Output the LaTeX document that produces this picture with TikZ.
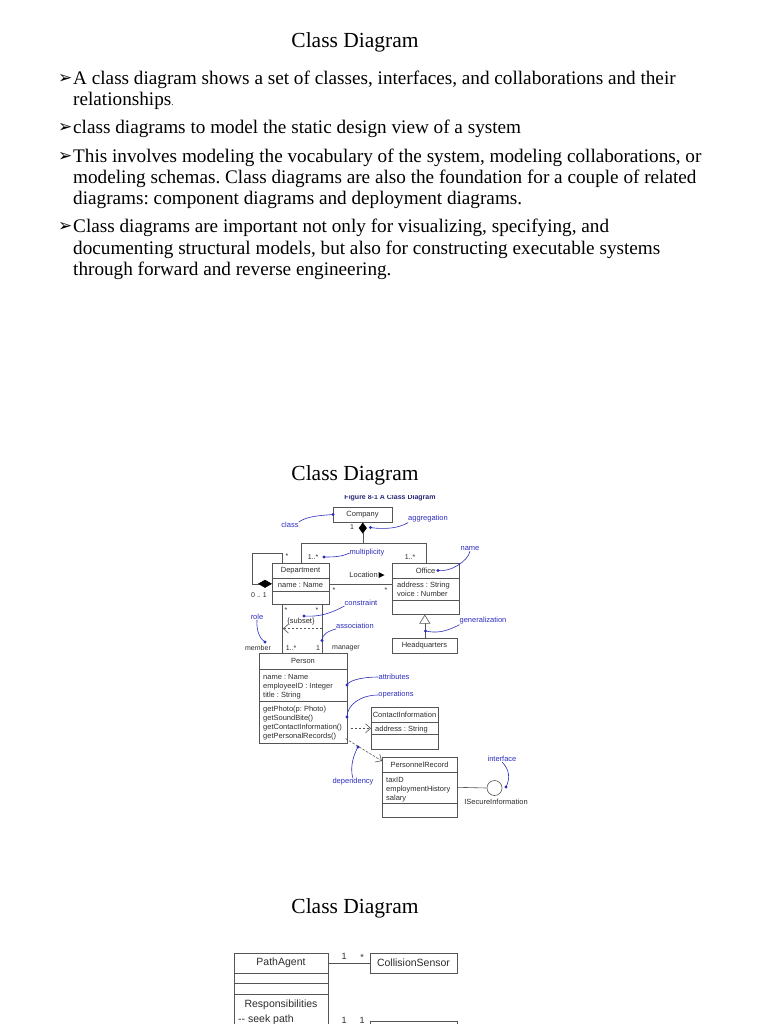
\documentclass[tikz,border=0pt]{standalone}
\usepackage{fontspec}
\setmainfont{Liberation Serif}
\setsansfont{Liberation Sans}
\newfontfamily\dejavu{DejaVu Sans}
\usetikzlibrary{arrows.meta,calc}
\definecolor{annblue}{RGB}{45,45,190}
\definecolor{umlline}{RGB}{85,85,85}
\definecolor{umltext}{RGB}{45,45,45}
\definecolor{capblue}{RGB}{40,40,120}
\frenchspacing
\begin{document}
\begin{tikzpicture}[x=1pt,y=-1pt,
  bodytext/.style={anchor=base west, inner sep=0pt, font=\fontsize{19.2}{22}\selectfont},
  titletext/.style={anchor=base, inner sep=0pt, font=\fontsize{21.5}{24}\selectfont},
  bulletmark/.style={anchor=base west, inner sep=0pt, font=\dejavu\fontsize{17}{18}\selectfont},
  umlbox/.style={draw=umlline, line width=0.6pt, anchor=north west, inner sep=0pt},
  umlsep/.style={draw=umlline, line width=0.6pt},
  umlname/.style={font=\sffamily\fontsize{7.5}{9}\selectfont, text=umltext, inner sep=0pt},
  umlattr/.style={font=\sffamily\fontsize{7.5}{9}\selectfont, text=umltext, inner sep=0pt, anchor=base west},
  umledge/.style={draw=umlline, line width=0.6pt},
  mult/.style={font=\sffamily\fontsize{7}{8}\selectfont, text=umltext, inner sep=0pt},
  ann/.style={font=\sffamily\fontsize{7.5}{9}\selectfont, text=annblue, inner sep=0pt},
  annline/.style={draw=annblue, line width=0.6pt},
  depline/.style={draw=umlline, line width=0.6pt, dash pattern=on 2.5pt off 1.5pt, -{Straight Barb[length=5pt,width=9pt]}},
  bigname/.style={font=\sffamily\fontsize{10.5}{12}\selectfont, text=umltext, inner sep=0pt},
  bigmult/.style={font=\sffamily\fontsize{9}{10}\selectfont, text=umltext, inner sep=0pt},
  bigbox/.style={draw=umlline, line width=0.8pt, anchor=north west, inner sep=0pt}
]
\useasboundingbox (0,0) rectangle (768,1024);
\clip (0,0) rectangle (768,1024);
\fill[white] (0,0) rectangle (768,1024);

% ---------------- top text ----------------
\node[titletext] (title1) at (355,48) {Class Diagram};
\node[bulletmark] (b1) at (58,84) {➢};
\node[bodytext] (t1) at (73,85) {A class diagram shows a set of classes, interfaces, and collaborations and their};
\node[bodytext] (t2) at (73,106) {relationships{\fontsize{9}{10}\selectfont.}};
\node[bulletmark] (b2) at (58,133) {➢};
\node[bodytext] (t3) at (73,134) {class diagrams to model the static design view of a system};
\node[bulletmark] (b3) at (58,162) {➢};
\node[bodytext] (t4) at (73,163) {This involves modeling the vocabulary of the system, modeling collaborations, or};
\node[bodytext] (t5) at (73,184) {modeling schemas. Class diagrams are also the foundation for a couple of related};
\node[bodytext] (t6) at (73,205) {diagrams: component diagrams and deployment diagrams.};
\node[bulletmark] (b4) at (58,232) {➢};
\node[bodytext] (t7) at (73,233) {Class diagrams are important not only for visualizing, specifying, and};
\node[bodytext] (t8) at (73,254) {documenting structural models, but also for constructing executable systems};
\node[bodytext] (t9) at (73,275) {through forward and reverse engineering.};

\node[titletext] (title2) at (355,480) {Class Diagram};
\node[titletext] (title3) at (355,913) {Class Diagram};

% ---------------- diagram 1 ----------------
\begin{scope}
\clip (300,495) rectangle (480,505);
\node[font=\sffamily\bfseries\fontsize{7}{8}\selectfont, text=capblue, inner sep=0pt, anchor=base] (caption) at (390,499) {Figure 8-1 A Class Diagram};
\end{scope}

% classes
\node[umlbox, minimum width=59pt, minimum height=15pt] (company) at (333,507) {};
\node[umlname] (companyname) at (362.5,514.5) {Company};

\node[umlbox, minimum width=57pt, minimum height=41pt] (dept) at (272,563) {};
\draw[umlsep] (272,578) -- (329,578) (272,591) -- (329,591);
\node[umlname] (deptname) at (300.5,570.5) {Department};
\node[umlname] (deptattr) at (300.5,584.5) {name : Name};

\node[umlbox, minimum width=67pt, minimum height=51pt] (office) at (392,563) {};
\draw[umlsep] (392,578) -- (459,578) (392,600) -- (459,600);
\node[umlname] (officename) at (425.5,570.5) {Office};
\node[umlattr] (oa1) at (397,587) {address : String};
\node[umlattr] (oa2) at (397,596) {voice : Number};

\node[umlbox, minimum width=65pt, minimum height=15pt] (hq) at (392,638) {};
\node[umlname] (hqname) at (424.5,645.5) {Headquarters};

\node[umlbox, minimum width=88pt, minimum height=90pt] (person) at (259,653) {};
\draw[umlsep] (259,669) -- (347,669) (259,701) -- (347,701);
\node[umlname] (personname) at (303,661) {Person};
\node[umlattr] (pa1) at (263,679.5) {name : Name};
\node[umlattr] (pa2) at (263,688.5) {employeeID : Integer};
\node[umlattr] (pa3) at (263,697) {title : String};
\node[umlattr] (po1) at (263,711.5) {getPhoto(p: Photo)};
\node[umlattr] (po2) at (263,720.5) {getSoundBite()};
\node[umlattr] (po3) at (263,729.5) {getContactInformation()};
\node[umlattr] (po4) at (263,738) {getPersonalRecords()};

\node[umlbox, minimum width=67pt, minimum height=42pt] (cinfo) at (371,707) {};
\draw[umlsep] (371,722) -- (438,722) (371,734) -- (438,734);
\node[umlname] (cinfoname) at (404.5,714.5) {ContactInformation};
\node[umlattr] (ca1) at (375,731) {address : String};

\node[umlbox, minimum width=75pt, minimum height=60pt] (prec) at (382,757) {};
\draw[umlsep] (382,772) -- (457,772) (382,803) -- (457,803);
\node[umlname] (precname) at (419.5,765) {PersonnelRecord};
\node[umlattr] (ra1) at (386,782) {taxID};
\node[umlattr] (ra2) at (386,791) {employmentHistory};
\node[umlattr] (ra3) at (386,800) {salary};

\node[draw=umlline, line width=0.6pt, circle, inner sep=0pt, minimum size=15pt] (iface) at (494.5,788) {};
\node[umlname] (ifacename) at (496,802) {ISecureInformation};

% relationships
\coordinate (busL) at ($(dept.north)+(0,-20)$);
\draw[umledge] (dept.north) -- (busL) -| (office.north);
\draw[umledge, {Diamond[length=11pt,width=8pt,color=black]}-] (company.south) -- (company.south |- busL);

\coordinate (selfc) at (252,553);
\draw[umledge, {Diamond[length=14pt,width=8pt,color=black]}-] (dept.west) -| (selfc) -| ($(dept.north west)+(10,0)$);

\draw[umledge] (dept.east) -- (dept.east -| office.west);
\node[umlname, anchor=east] (loc) at (378,575) {Location};
\fill[black] (378.5,572) -- (384.5,575) -- (378.5,578) -- cycle;

\draw[umledge, -{Triangle[open,length=9pt,width=11pt,fill=white]}] (hq.north) -- (hq.north |- office.south);

\coordinate (m1) at ($(dept.south west)+(10,0)$);
\coordinate (m2) at ($(dept.south west)+(50,0)$);
\draw[umledge] (m1) -- (m1 |- person.north);
\draw[umledge] (m2) -- (m2 |- person.north);
\draw[depline] ($(m2)+(0,24)$) -- ($(m1)+(1,24)$);
\node[umlname] (subset) at (301,622) {\{subset\}};

\draw[depline] ($(person.east |- cinfo.west)+(3,0)$) -- (cinfo.west);
\draw[depline] ($(person.south east)+(-2,-5)$) -- ($(prec.north west)+(0,4)$);
\draw[umledge] (prec.east) -- (iface.west);

% multiplicities & roles
\node[mult] (mc1) at (352,527) {1};
\node[mult] (md1) at (313,557) {1..*};
\node[mult] (mo1) at (410,557) {1..*};
\node[mult] (ms1) at (287,556) {*};
\node[mult] (ms2) at (259,595) {0 .. 1};
\node[mult] (ml1) at (334,590) {*};
\node[mult] (ml2) at (386,590) {*};
\node[mult] (ma1) at (286,610) {*};
\node[mult] (ma2) at (317,610) {*};
\node[mult] (member) at (258,648) {member};
\node[mult] (ma3) at (291,648) {1..*};
\node[mult] (ma4) at (318,648) {1};
\node[mult] (manager) at (346,648) {manager};

% annotations
\node[ann] (lclass) at (290,525) {class};
\node[ann] (laggr) at (428,519) {aggregation};
\node[ann] (lmult) at (367,553) {multiplicity};
\node[ann] (lname) at (470,549) {name};
\node[ann] (lcons) at (361,603) {constraint};
\node[ann] (lassoc) at (355,626) {association};
\node[ann] (lrole) at (257,617) {role};
\node[ann] (lattr) at (394,677) {attributes};
\node[ann] (lops) at (396,695) {operations};
\node[ann] (lgen) at (483,621) {generalization};
\node[ann] (ldep) at (353,782) {dependency};
\node[ann] (liface) at (502,759) {interface};

\coordinate (dclass) at (333,514.5);
\coordinate (daggr) at (370.5,527.5);
\coordinate (dmult) at (324,557);
\coordinate (dname) at (438,570.5);
\coordinate (dcons) at (304,616);
\coordinate (dassoc) at (322,640.5);
\coordinate (drole) at (265,642);
\coordinate (dattr) at (347,685);
\coordinate (dops) at (347,717);
\coordinate (dgen) at (425.5,631);
\coordinate (ddep) at (358,747);
\coordinate (diface) at (506,787);

\draw[annline] (lclass.north east) .. controls +(8,-6) and +(-12,1) .. (dclass);
\draw[annline] (laggr.south west) .. controls +(-10,6) and +(12,2) .. (daggr);
\draw[annline] (lmult.west) .. controls +(-8,4) and +(8,0) .. (dmult);
\draw[annline] (lname.south) .. controls +(-2,10) and +(12,2) .. (dname);
\draw[annline] (lcons.south west) .. controls +(-15,8) and +(15,1) .. (dcons);
\draw[annline] (lassoc.south west) .. controls +(-8,2) and +(0,-6) .. (dassoc);
\draw[annline] (lrole.south) .. controls +(-1,12) and +(-4,-2) .. (drole);
\draw[annline] (lattr.west) .. controls +(-15,0) and +(2,-5) .. (dattr);
\draw[annline] (lops.west) .. controls +(-18,0) and +(0,-12) .. (dops);
\draw[annline] (lgen.south west) .. controls +(-15,8) and +(10,2) .. (dgen);
\draw[annline] (ldep.north) .. controls +(-4,-12) and +(-3,5) .. (ddep);
\draw[annline] (liface.south) .. controls +(8,8) and +(4,-8) .. (diface);
\foreach \d in {dclass,daggr,dmult,dname,dcons,dassoc,drole,dattr,dops,dgen,ddep,diface}
  \fill[annblue] (\d) circle (1.6);

% ---------------- diagram 2 ----------------
\node[bigbox, minimum width=94pt, minimum height=100pt] (pathagent) at (234,953) {};
\draw[umlsep, line width=0.8pt] (234,973) -- (328,973) (234,983.5) -- (328,983.5) (234,994) -- (328,994);
\node[bigname] (paname) at (281,963) {PathAgent};
\node[bigname] (resp) at (281,1005) {Responsibilities};
\node[bigname, anchor=base west] (seek) at (238,1022) {-{}- seek path};

\node[bigbox, minimum width=87pt, minimum height=20pt] (collision) at (370,953) {};
\node[bigname] (csname) at (413.5,963) {CollisionSensor};
\draw[umledge, line width=0.8pt] (pathagent.east |- collision.west) -- (collision.west);
\node[bigmult] (pm1) at (344,956) {1};
\node[bigmult] (pm2) at (362,957.5) {*};

\node[bigbox, minimum width=87pt, minimum height=20pt] (lowerbox) at (370,1021) {};
\draw[umledge, line width=0.8pt] (pathagent.east |- lowerbox.west) -- (lowerbox.west);
\node[bigmult, anchor=base] (pm3) at (344,1023) {1};
\node[bigmult, anchor=base] (pm4) at (362,1023) {1};
\end{tikzpicture}
\end{document}
